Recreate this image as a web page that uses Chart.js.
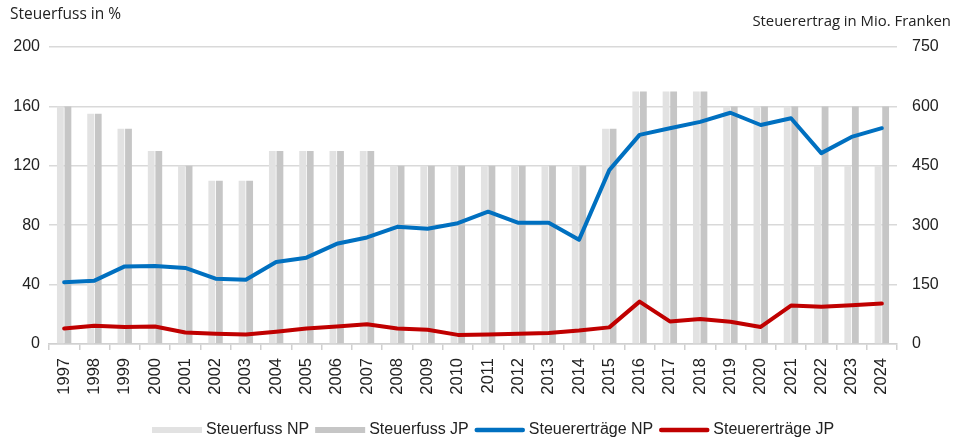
<!DOCTYPE html>
<html>
<head>
<meta charset="utf-8">
<script src="https://cdn.jsdelivr.net/npm/chart.js@4/dist/chart.umd.min.js"></script>
<style>
html,body{margin:0;padding:0;background:#fff;}
#wrap{position:relative;width:954px;height:437px;}
</style>
</head>
<body>
<div id="wrap"><canvas id="c" width="954" height="437"></canvas></div>
<script>
const years = ['1997','1998','1999','2000','2001','2002','2003','2004','2005','2006','2007','2008','2009','2010','2011','2012','2013','2014','2015','2016','2017','2018','2019','2020','2021','2022','2023','2024'];
const steuerfussNP = [160,155,145,130,120,110,110,130,130,130,130,120,120,120,120,120,120,120,145,170,170,170,160,160,160,120,120,120];
const steuerfussJP = [160,155,145,130,120,110,110,130,130,130,130,120,120,120,120,120,120,120,145,170,170,170,160,160,160,160,160,160];
const ertraegeNP = [156,160,196,197,192,165,162,207,218,253,269,296,291,305,334,306,306,263,439,528,545,561,584,553,570,482,523,545];
const ertraegeJP = [39,46,43,44,29,26,24,31,39,44,50,39,36,23,24,26,28,34,42,107,57,63,56,43,97,94,98,102];
const leftTicks = [0,40,80,120,160,200];
const rightTicks = [0,150,300,450,600,750];
const leftTitle = 'Steuerfuss in %';
const rightTitle = 'Steuerertrag in Mio. Franken';

const FONT = "'Liberation Sans', Arial, sans-serif";
const TFONT = "'Open Sans', 'Liberation Sans', sans-serif";

const extrasPlugin = {
  id: 'extras',
  afterDraw(chart) {
    const ctx = chart.ctx;
    ctx.save();
    ctx.fillStyle = '#222';
    ctx.textBaseline = 'middle';
    ctx.textAlign = 'left';
    ctx.font = '15.5px ' + TFONT;
    ctx.fillText(leftTitle, 10, 15);
    ctx.textAlign = 'right';
    ctx.font = '14.9px ' + TFONT;
    ctx.fillText(rightTitle, 951, 22);
    // legend
    const items = chart.data.datasets.map(d => ({label: d.label, color: d.type === 'line' ? d.borderColor : d.backgroundColor, line: d.type === 'line'}));
    let x = 152;
    const y = 430;
    ctx.font = '16px ' + FONT;
    ctx.textAlign = 'left';
    items.forEach(it => {
      if (it.line) {
        ctx.strokeStyle = it.color;
        ctx.lineWidth = 4.5;
        ctx.lineCap = 'round';
        ctx.beginPath();
        ctx.moveTo(x + 2, y);
        ctx.lineTo(x + 48, y);
        ctx.stroke();
      } else {
        ctx.fillStyle = it.color;
        ctx.fillRect(x, y - 3, 50, 6);
      }
      ctx.fillStyle = '#222';
      const tx = x + 54;
      ctx.fillText(it.label, tx, y);
      x = tx + ctx.measureText(it.label).width + 6;
    });
    ctx.restore();
  }
};

new Chart(document.getElementById('c'), {
  data: {
    labels: years,
    datasets: [
      {type: 'bar', label: 'Steuerfuss NP', data: steuerfussNP, backgroundColor: '#e2e2e2', yAxisID: 'y', categoryPercentage: 0.5, barPercentage: 0.9, order: 2},
      {type: 'bar', label: 'Steuerfuss JP', data: steuerfussJP, backgroundColor: '#c6c6c6', yAxisID: 'y', categoryPercentage: 0.5, barPercentage: 0.9, order: 3},
      {type: 'line', label: 'Steuererträge NP', data: ertraegeNP, borderColor: '#0070c0', backgroundColor: '#0070c0', borderWidth: 4, pointRadius: 0, tension: 0, yAxisID: 'y1', order: 1, borderJoinStyle: 'round', borderCapStyle: 'round'},
      {type: 'line', label: 'Steuererträge JP', data: ertraegeJP, borderColor: '#c00000', backgroundColor: '#c00000', borderWidth: 4, pointRadius: 0, tension: 0, yAxisID: 'y1', order: 0, borderJoinStyle: 'round', borderCapStyle: 'round'}
    ]
  },
  options: {
    responsive: false,
    animation: false,
    layout: {padding: {top: 47, bottom: 31, left: 0, right: 0}},
    plugins: {legend: {display: false}, tooltip: {enabled: false}},
    scales: {
      x: {
        offset: true,
        grid: {offset: true, drawOnChartArea: false, color: '#d0d0d0', tickLength: 6, lineWidth: 1.5},
        border: {color: '#d0d0d0', width: 1.5},
        ticks: {minRotation: 90, maxRotation: 90, color: '#222', font: {family: FONT, size: 16.5}, padding: 8, autoSkip: false},
        afterFit(s) { s.height = 62; }
      },
      y: {
        position: 'left',
        min: 0, max: 200,
        afterBuildTicks(s) { s.ticks = leftTicks.map(v => ({value: v})); },
        grid: {color: '#d9d9d9', lineWidth: 1.5, drawTicks: false},
        border: {display: false},
        ticks: {color: '#222', font: {family: FONT, size: 16}, padding: 9},
        afterFit(s) { s.width = 49; }
      },
      y1: {
        position: 'right',
        min: 0, max: 750,
        afterBuildTicks(s) { s.ticks = rightTicks.map(v => ({value: v})); },
        grid: {display: false, drawTicks: false},
        border: {display: false},
        ticks: {color: '#222', font: {family: FONT, size: 16}, padding: 15},
        afterFit(s) { s.width = 57; }
      }
    }
  },
  plugins: [extrasPlugin]
});
</script>
</body>
</html>
